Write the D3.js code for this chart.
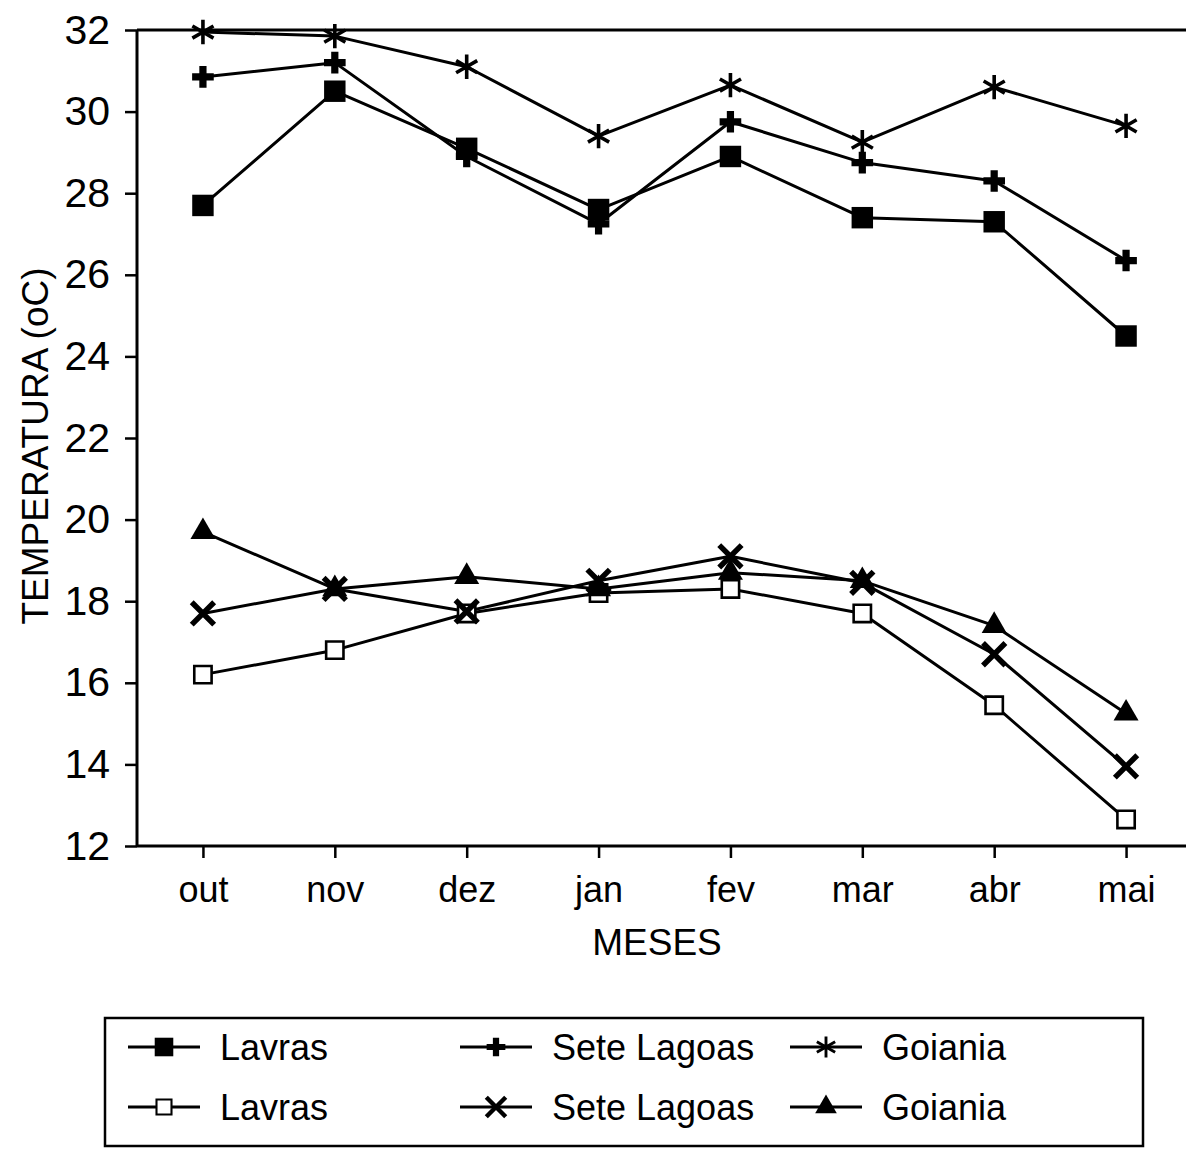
<!DOCTYPE html>
<html>
<head>
<meta charset="utf-8">
<script src="https://cdn.jsdelivr.net/npm/d3@7"></script>
<style>
  html, body { margin: 0; padding: 0; background: #fff; }
  svg { display: block; }
  text { font-family: "Liberation Sans", "DejaVu Sans", sans-serif; fill: #000; }
</style>
</head>
<body>
<svg id="chart" width="1186" height="1150"></svg>
<script>
// Monthly mean temperatures (max and min) at three locations
const months = ["out", "nov", "dez", "jan", "fev", "mar", "abr", "mai"];
const yTicks = [12, 14, 16, 18, 20, 22, 24, 26, 28, 30, 32];

const lavrasMax  = [27.7, 30.5, 29.1, 27.6, 28.9, 27.4, 27.3, 24.5];
const seteMax    = [30.85, 31.2, 28.9, 27.25, 29.75, 28.75, 28.3, 26.35];
const goianiaMax = [31.95, 31.85, 31.1, 29.4, 30.65, 29.25, 30.6, 29.65];
const lavrasMin  = [16.2, 16.8, 17.7, 18.2, 18.3, 17.7, 15.45, 12.65];
const seteMin    = [17.7, 18.3, 17.75, 18.5, 19.1, 18.45, 16.7, 13.95];
const goianiaMin = [19.7, 18.3, 18.6, 18.3, 18.7, 18.5, 17.4, 15.25];

const seriesNames = ["Lavras", "Sete Lagoas", "Goiania", "Lavras", "Sete Lagoas", "Goiania"];

// Marker style per series
const markerDefs = [
  { type: d3.symbolSquare,   size: 460, fill: "#000", stroke: "none", sw: 0 },
  { type: d3.symbolCross,    size: 260, fill: "#000", stroke: "none", sw: 0 },
  { type: d3.symbolAsterisk, size: 420, fill: "none", stroke: "#000", sw: 3.6 },
  { type: d3.symbolSquare,   size: 300, fill: "#fff", stroke: "#000", sw: 2.6 },
  { type: d3.symbolX,        size: 330, fill: "none", stroke: "#000", sw: 5.5 },
  { type: d3.symbolTriangle, size: 270, fill: "#000", stroke: "none", sw: 0 }
];

const series = [
  { name: seriesNames[0], values: lavrasMax,  m: markerDefs[0] },
  { name: seriesNames[1], values: seteMax,    m: markerDefs[1] },
  { name: seriesNames[2], values: goianiaMax, m: markerDefs[2] },
  { name: seriesNames[3], values: lavrasMin,  m: markerDefs[3] },
  { name: seriesNames[4], values: seteMin,    m: markerDefs[4] },
  { name: seriesNames[5], values: goianiaMin, m: markerDefs[5] }
];

const svg = d3.select("#chart");
const plotLeft = 137, plotRight = 1192, plotTop = 30, plotBottom = 846;

const x = d3.scalePoint().domain(months).range([plotLeft, plotRight]).padding(0.5);
const y = d3.scaleLinear().domain([12, 32]).range([plotBottom, plotTop]);

// Plot frame
svg.append("line").attr("x1", plotLeft).attr("x2", 1186).attr("y1", y(32)).attr("y2", y(32))
  .attr("stroke", "#000").attr("stroke-width", 3);
svg.append("line").attr("x1", plotLeft).attr("x2", 1186).attr("y1", plotBottom).attr("y2", plotBottom)
  .attr("stroke", "#000").attr("stroke-width", 3);
svg.append("line").attr("x1", plotLeft).attr("x2", plotLeft).attr("y1", plotTop).attr("y2", plotBottom + 1)
  .attr("stroke", "#000").attr("stroke-width", 3);

// Y axis
const yAxis = svg.append("g").attr("transform", `translate(${plotLeft},0)`)
  .call(d3.axisLeft(y).tickValues(yTicks).tickSize(12).tickPadding(15).tickFormat(d3.format("d")));
yAxis.select(".domain").remove();
yAxis.selectAll(".tick line").attr("stroke", "#000").attr("stroke-width", 2.5);
yAxis.selectAll(".tick text").attr("font-size", 41).attr("fill", "#000");

// X axis
const xAxis = svg.append("g").attr("transform", `translate(0,${plotBottom})`)
  .call(d3.axisBottom(x).tickSize(12).tickPadding(18));
xAxis.select(".domain").remove();
xAxis.selectAll(".tick line").attr("stroke", "#000").attr("stroke-width", 2.5);
xAxis.selectAll(".tick text").attr("font-size", 36).attr("fill", "#000");

// Axis titles
svg.append("text").attr("x", 657).attr("y", 955).attr("text-anchor", "middle")
  .attr("font-size", 37).text("MESES");
svg.append("text").attr("transform", "translate(48,446) rotate(-90)").attr("text-anchor", "middle")
  .attr("font-size", 37).text("TEMPERATURA (oC)");

// Lines and markers
const line = d3.line().x((d, i) => x(months[i])).y(d => y(d));

series.forEach(s => {
  svg.append("path").datum(s.values).attr("d", line)
    .attr("fill", "none").attr("stroke", "#000").attr("stroke-width", 3)
    .attr("stroke-linejoin", "round");
});

series.forEach(s => {
  svg.append("g").selectAll("path").data(s.values).join("path")
    .attr("transform", (d, i) => `translate(${x(months[i])},${y(d)})`)
    .attr("d", d3.symbol().type(s.m.type).size(s.m.size))
    .attr("fill", s.m.fill).attr("stroke", s.m.stroke).attr("stroke-width", s.m.sw);
});

// Legend
const legend = svg.append("g");
legend.append("rect").attr("x", 105).attr("y", 1018).attr("width", 1038).attr("height", 128)
  .attr("fill", "none").attr("stroke", "#000").attr("stroke-width", 2.5);

const colX = [128, 460, 790];
const rowY = [1047, 1107];
series.forEach((s, i) => {
  const col = i % 3, row = Math.floor(i / 3);
  const x0 = colX[col], yy = rowY[row];
  const g = legend.append("g");
  g.append("line").attr("x1", x0).attr("x2", x0 + 72).attr("y1", yy).attr("y2", yy)
    .attr("stroke", "#000").attr("stroke-width", 3);
  g.append("path").attr("transform", `translate(${x0 + 36},${yy})`)
    .attr("d", d3.symbol().type(s.m.type).size(s.m.size * 0.75))
    .attr("fill", s.m.fill).attr("stroke", s.m.stroke).attr("stroke-width", s.m.sw * 0.8);
  g.append("text").attr("x", x0 + 92).attr("y", yy + 13).attr("font-size", 36).text(s.name);
});
</script>
</body>
</html>
